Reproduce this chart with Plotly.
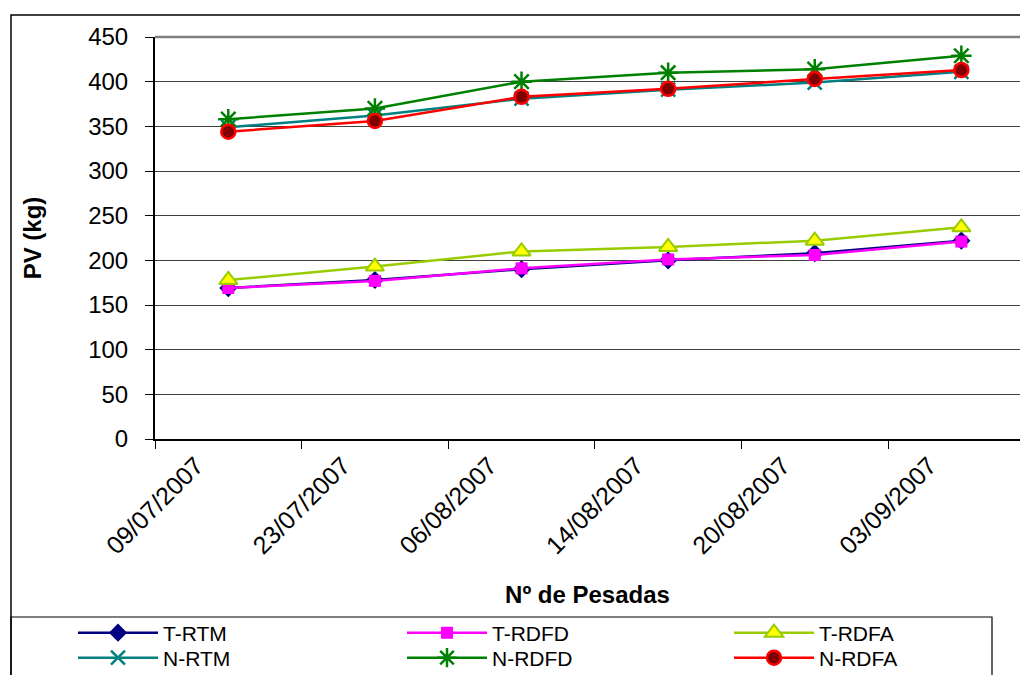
import plotly.graph_objects as go

# Weighing dates (x categories)
datas = ["09/07/2007", "23/07/2007", "06/08/2007", "14/08/2007", "20/08/2007", "03/09/2007"]

# Live weight (kg) per group
t_rtm = [169, 178, 190, 200, 208, 222]
t_rdfd = [169, 177, 191, 201, 206, 221]
t_rdfa = [178, 193, 210, 215, 222, 237]
n_rtm = [349, 362, 381, 391, 399, 411]
n_rdfd = [358, 370, 400, 410, 414, 429]
n_rdfa = [344, 356, 383, 392, 403, 413]

series = [
    ("T-RTM", t_rtm, dict(color="#000080", width=2.5),
     dict(symbol="diamond", size=14, color="#000080")),
    ("T-RDFD", t_rdfd, dict(color="#FF00FF", width=2.5),
     dict(symbol="square", size=12, color="#FF00FF")),
    ("T-RDFA", t_rdfa, dict(color="#99CC00", width=2.5),
     dict(symbol="triangle-up", size=16, color="#FFFF00",
          line=dict(color="#99CC00", width=2))),
    ("N-RTM", n_rtm, dict(color="#008080", width=2.5),
     dict(symbol="x-thin", size=14, color="#008080",
          line=dict(color="#008080", width=2.5))),
    ("N-RDFD", n_rdfd, dict(color="#008000", width=2.5),
     dict(symbol="asterisk", size=17, color="#008000",
          line=dict(color="#008000", width=2.5))),
    ("N-RDFA", n_rdfa, dict(color="#FF0000", width=2.5),
     dict(symbol="circle", size=14, color="#800000",
          line=dict(color="#FF0000", width=2.5))),
]

W, H = 1020, 675
L, T, B = 155, 37, 675 - 439
plot_w, plot_h = W - L, H - T - B

font = "Liberation Sans, Arial, sans-serif"

# legend grid: 3 columns x 2 rows, one legend per entry
legend_cols = [73, 402, 729]
legend_rows = [633, 658]
legend_ids = ["legend", "legend2", "legend3", "legend4", "legend5", "legend6"]

fig = go.Figure()
for i, (name, vals, line, marker) in enumerate(series):
    fig.add_trace(go.Scatter(x=datas, y=vals, name=name, mode="lines+markers",
                             line=line, marker=marker, cliponaxis=False,
                             legend=legend_ids[i]))


def px_x(p):
    return (p - L) / plot_w


def px_y(p):
    return (H - B - p) / plot_h


shapes = [
    # outer chart frame
    dict(type="rect", xref="paper", yref="paper",
         x0=px_x(11), x1=px_x(1040), y0=px_y(15), y1=px_y(700),
         line=dict(color="#000000", width=1.5)),
    # legend box
    dict(type="rect", xref="paper", yref="paper",
         x0=px_x(11), x1=px_x(992), y0=px_y(617), y1=px_y(700),
         line=dict(color="#000000", width=1.2)),
    # plot area top edge
    dict(type="line", xref="paper", yref="paper",
         x0=0, x1=1, y0=1, y1=1, line=dict(color="#808080", width=2.5)),
]

legends = {}
for i, lid in enumerate(legend_ids):
    col, row = i % 3, i // 3
    legends[lid] = dict(orientation="h", xref="container", yref="container",
                        x=legend_cols[col] / W, xanchor="left",
                        y=(H - legend_rows[row]) / H, yanchor="middle",
                        itemwidth=80,
                        font=dict(family=font, size=21, color="black"),
                        bgcolor="rgba(0,0,0,0)", borderwidth=0)

fig.update_layout(
    width=W, height=H,
    margin=dict(l=L, r=0, t=T, b=B),
    paper_bgcolor="white", plot_bgcolor="white",
    font=dict(family=font, color="black"),
    shapes=shapes,
    showlegend=True,
    **legends,
    xaxis=dict(
        type="category", range=[-0.5, 5.4], automargin=False,
        tickson="boundaries", ticks="outside", ticklen=8,
        tickcolor="#000000", tickwidth=1,
        showline=True, linecolor="#000000", linewidth=2,
        showgrid=False, zeroline=False,
        tickangle=-45, ticklabelshift=-32,
        tickfont=dict(family=font, size=25),
        title=dict(text="<b>Nº de Pesadas</b>",
                   font=dict(family=font, size=24), standoff=28),
    ),
    yaxis=dict(
        range=[0, 450], dtick=50, tick0=0, automargin=False,
        ticks="outside", ticklen=8, tickcolor="#000000",
        showline=True, linecolor="#000000", linewidth=2,
        showgrid=True, gridcolor="#404040", gridwidth=1,
        zeroline=False, ticklabelstandoff=12,
        tickfont=dict(family=font, size=24),
        title=dict(text="<b>PV (kg)</b>",
                   font=dict(family=font, size=24), standoff=40),
    ),
)

fig.write_html("out.html")
